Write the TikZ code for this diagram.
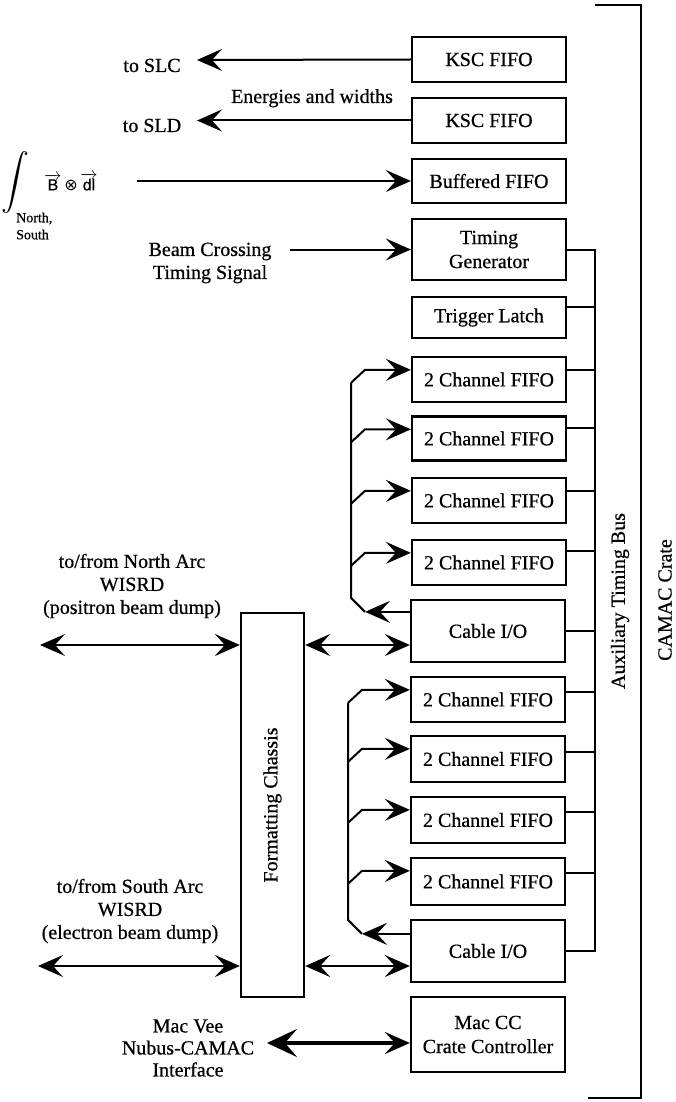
\documentclass[tikz,border=0pt]{standalone}
\usepackage{fontspec}
\setmainfont{Liberation Serif}[FakeBold=0.6]
\newfontfamily\sansf{Liberation Sans}[FakeBold=0.5]
\newfontfamily\dejavu{DejaVu Sans}
\usetikzlibrary{arrows.meta,calc}
\tikzset{
  box/.style={draw, line width=2.3pt, minimum width=154pt, inner sep=0pt, align=center, font=\fontsize{20}{24}\selectfont},
  lbl/.style={align=center, inner sep=0pt, font=\fontsize{20}{23}\selectfont},
  bigtip/.tip={Stealth[length=25pt,width=22pt,inset=10pt]},
  hugetip/.tip={Stealth[length=30pt,width=28pt,inset=12pt]},
  ln/.style={line width=2pt},
  arr/.style={line width=2pt, -bigtip},
  biarr/.style={line width=2pt, bigtip-bigtip},
  thickbi/.style={line width=3.5pt, hugetip-bigtip},
  bus/.style={line width=2pt},
}
\begin{document}
\begin{tikzpicture}[x=1pt,y=-1pt]
\useasboundingbox (0,0) rectangle (675,1102);
% boxes
\node[box, minimum height=45pt] (ksc1) at (489,59.5) {KSC FIFO};
\node[box, minimum height=45pt] (ksc2) at (489,120.5) {KSC FIFO};
\node[box, minimum height=44pt] (buf) at (489,181) {Buffered FIFO};
\node[box, minimum height=61pt] (tg) at (489,249.5) {Timing\\Generator};
\node[box, minimum height=41pt] (tl) at (489,317.5) {Trigger Latch};
\node[box, minimum height=45pt] (f1) at (489,379.5) {2 Channel FIFO};
\node[box, minimum height=44pt] (f2) at (489,438.5) {2 Channel FIFO};
\node[box, minimum height=45pt] (f3) at (489,500.5) {2 Channel FIFO};
\node[box, minimum height=45pt] (f4) at (489,562.5) {2 Channel FIFO};
\node[box, minimum height=62pt] (cio1) at (488,631) {Cable I/O};
\node[box, minimum height=45pt] (f5) at (488,699.5) {2 Channel FIFO};
\node[box, minimum height=46pt] (f6) at (488,759) {2 Channel FIFO};
\node[box, minimum height=46pt] (f7) at (488,820) {2 Channel FIFO};
\node[box, minimum height=47pt] (f8) at (488,881.5) {2 Channel FIFO};
\node[box, minimum height=62pt] (cio2) at (488,951) {Cable I/O};
\node[box, minimum height=75pt] (mac) at (488,1034.5) {Mac CC\\Crate Controller};
\node[draw, line width=2.3pt, rotate=90, minimum width=384pt, minimum height=63pt, inner sep=0pt, font=\fontsize{20}{23}\selectfont] (ch) at (272.5,805) {Formatting Chassis};

% CAMAC crate bracket
\draw[line width=2.8pt] (595,5) -- (641,5) -- (641,1098) -- (588,1098);
\node[lbl, rotate=90] (camac) at (665,600) {CAMAC Crate};

% auxiliary timing bus
\coordinate (busX) at (595,0);
\draw[bus] (tg.east) -| (cio2.east -| busX) -- (cio2.east);
\draw[bus] (cio1.east) -- (cio1.east -| busX);
\draw[bus] ([yshift=-11pt]tl.north east) coordinate (t) -- (t -| busX);
\foreach \n/\d in {f1/14,f2/13,f3/14,f4/12,f5/16,f6/17,f7/16,f8/16}
  \draw[bus] ([yshift=-\d pt]\n.north east) coordinate (t) -- (t -| busX);
\node[lbl, rotate=90] (aux) at (620,601) {Auxiliary Timing Bus};

% loops, group 1
\coordinate (L1) at (351,0);
\coordinate (T1) at (365,0);
\foreach \n in {f1,f2,f3,f4}
  \draw[arr] ([yshift=-14pt]\n.north west) coordinate (t)
     (t -| L1) ++(0,13) -- ++(14,-13) -- (t);
\coordinate (o1) at ([yshift=-13pt]cio1.north west);
\coordinate (i1) at ([yshift=-14pt]f1.north west);
\draw[arr] (o1) -- (o1 -| T1);
\draw[ln] (i1 -| L1) ++(0,13) -- ($(o1 -| L1)+(0,-14)$) -- (o1 -| T1);

% loops, group 2
\coordinate (L2) at (348,0);
\coordinate (T2) at (362,0);
\foreach \n in {f5,f6,f7,f8}
  \draw[arr] ([yshift=-14pt]\n.north west) coordinate (t)
     (t -| L2) ++(0,13) -- ++(14,-13) -- (t);
\coordinate (o2) at ([yshift=-15pt]cio2.north west);
\coordinate (i2) at ([yshift=-14pt]f5.north west);
\draw[arr] (o2) -- (o2 -| T2);
\draw[ln] (i2 -| L2) ++(0,13) -- ($(o2 -| L2)+(0,-14)$) -- (o2 -| T2);

% top arrows
\coordinate (slc) at (197,60);
\coordinate (sld) at (197,120.5);
\draw[arr] (ksc1.west) -- (slc);
\draw[arr] (ksc2.west) -- (sld);
\node[lbl, anchor=base] (tslc) at (152,72) {to SLC};
\node[lbl, anchor=base] (tsld) at (152,132) {to SLD};
\node[lbl, anchor=base] (energ) at (312,103) {Energies and widths};

% integral
\node[inner sep=0pt] (intg) at (15,183) {\resizebox*{!}{62pt}{$\displaystyle\int$}};
\node[inner sep=0pt, font=\fontsize{16}{18}\selectfont\sansf] (bdl) at (71,182)
  {$\overrightarrow{\mbox{B}}$\,{\dejavu ⊗}\,$\overrightarrow{\mbox{dl}}$};
\node[inner sep=0pt, align=left, anchor=west, font=\fontsize{14}{17}\selectfont] (ns) at (16,226) {North,\\South};
\coordinate (bstart) at (137,181);
\draw[arr] (bstart) -- (buf.west);

% beam crossing
\node[lbl] (beam) at (210,263) {Beam Crossing\\Timing Signal};
\coordinate (bcs) at (290,249.5);
\draw[arr] (bcs) -- (tg.west);

% north / south arcs
\node[lbl] (north) at (132,586) {to/from North Arc\\WISRD\\(positron beam dump)};
\node[lbl] (south) at (130,911) {to/from South Arc\\WISRD\\(electron beam dump)};
\coordinate (na) at (40,645);
\draw[biarr] (na) -- (na -| ch.north);
\coordinate (c1) at ([yshift=-14pt]cio1.west);
\draw[biarr] (c1 -| ch.south) -- (c1);
\coordinate (sa) at (38,966);
\draw[biarr] (sa) -- (sa -| ch.north);
\coordinate (c2) at ([yshift=-15pt]cio2.west);
\draw[biarr] (c2 -| ch.south) -- (c2);

% MacVee
\node[lbl, font=\fontsize{20}{22}\selectfont] (macvee) at (188,1048) {Mac Vee\\Nubus-CAMAC\\Interface};
\coordinate (mv) at (267,1043);
\draw[thickbi] (mv) -- (mv -| mac.west);
\end{tikzpicture}
\end{document}
